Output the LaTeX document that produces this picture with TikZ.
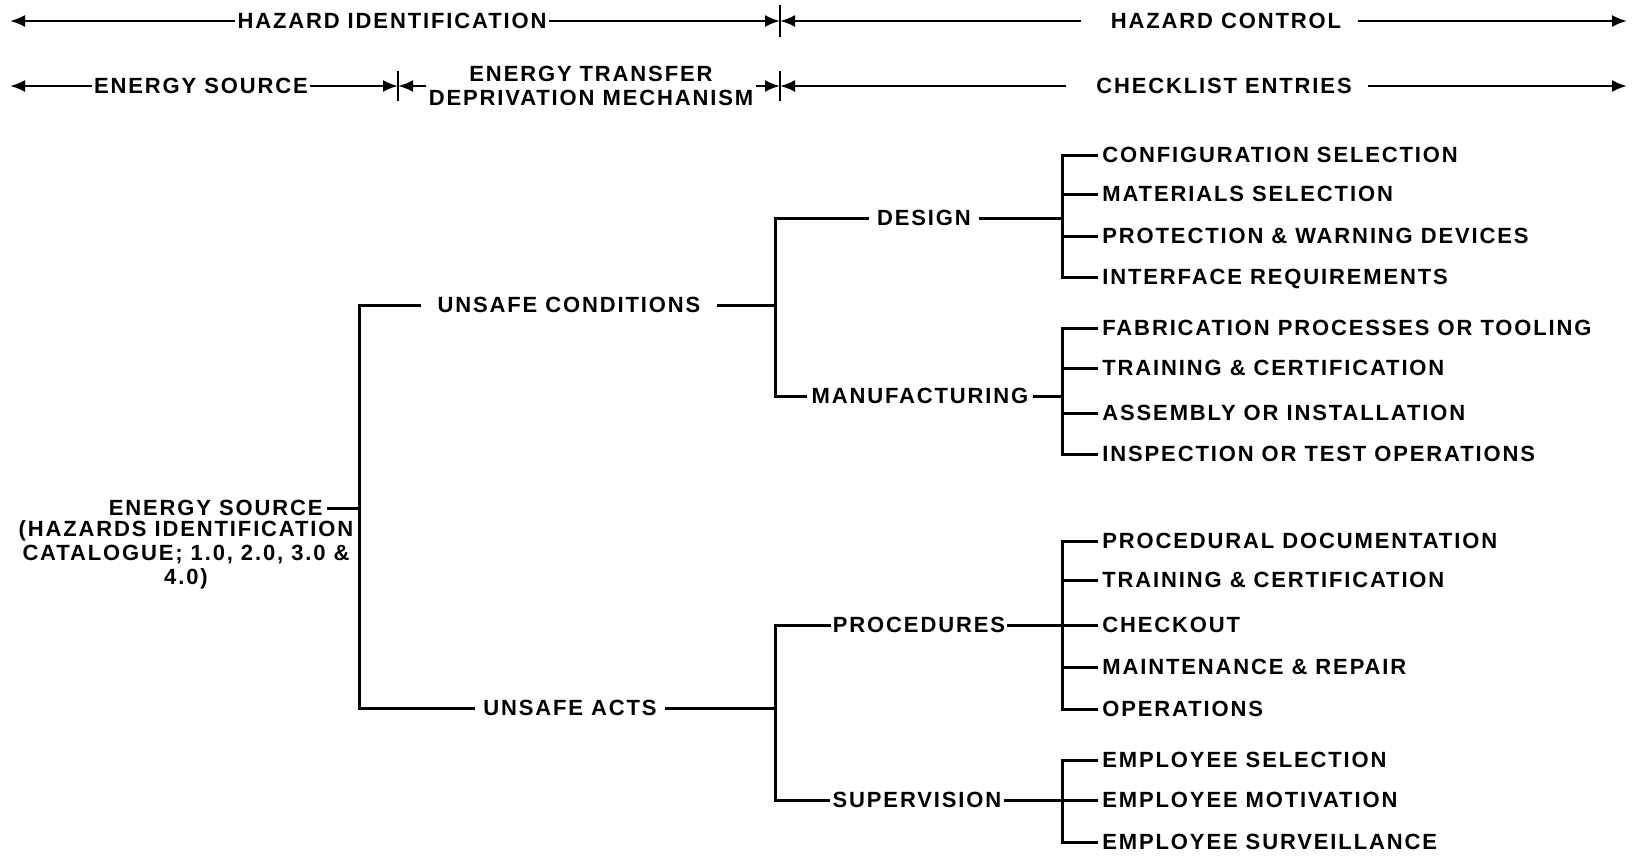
\documentclass[tikz,border=0pt]{standalone}
\usepackage{fontspec}
\setmainfont{Liberation Sans}[LetterSpace=8.5]
\usetikzlibrary{arrows.meta,positioning}

\begin{document}
\begin{tikzpicture}[
  x=0.5pt, y=-0.5pt,
  font=\fontsize{11}{12}\selectfont\bfseries,
  lbl/.style={inner sep=2pt, text height=7.9pt, text depth=0pt},
  leaf/.style={lbl, anchor=west},
  link/.style={line width=1.5pt},
  span/.style={line width=1.2pt, -{Latex[length=7.5pt,width=6pt]}},
  divider/.style={line width=1.2pt},
]
  \useasboundingbox (0,0) rectangle (1643,857);

  % header: identification / control
  \coordinate (hl) at (10,21);
  \coordinate (hm) at (780,21);
  \coordinate (hr) at (1627,21);
  \node[lbl, inner sep=1pt] (hid) at (392,21) {HAZARD IDENTIFICATION};
  \node[lbl, inner xsep=8pt] (hctl) at (1226,21) {HAZARD CONTROL};
  \draw[span] (hid.west) -- (hl);
  \draw[span] (hid.east) -- (hm);
  \draw[span, shorten <=7pt] (hctl.west) -- (hm);
  \draw[span] (hctl.east) -- (hr);
  \draw[divider] (hm) ++(0,-16) -- ++(0,32);

  % header: source / mechanism / entries
  \coordinate (el) at (10,86);
  \coordinate (ed) at (398,86);
  \coordinate (td) at (780,86);
  \coordinate (er) at (1627,86);
  \node[lbl, inner sep=1pt] (esrc) at (201,86) {ENERGY SOURCE};
  \node[align=center, inner sep=1pt] (mech) at (591,86) {ENERGY TRANSFER\\DEPRIVATION MECHANISM};
  \node[lbl, inner xsep=8pt] (chk) at (1224,86) {CHECKLIST ENTRIES};
  \draw[span] (esrc.west) -- (el);
  \draw[span] (esrc.east) -- (ed);
  \draw[span] (mech.west) -- (ed);
  \draw[span] (mech.east) -- (td);
  \draw[span, shorten <=7pt] (chk.west) -- (td);
  \draw[span] (chk.east) -- (er);
  \draw[divider] (ed) ++(0,-15) -- ++(0,30);
  \draw[divider] (td) ++(0,-15) -- ++(0,30);

  % tree columns
  \coordinate (v1) at (359,0);
  \coordinate (v2) at (775,0);
  \coordinate (v3) at (1062,0);

  \node[lbl, anchor=east] (root) at (327,508) {ENERGY SOURCE};
  \node[align=center, inner sep=0pt] (cat) at (186,555) {(HAZARDS IDENTIFICATION\\CATALOGUE; 1.0, 2.0, 3.0 \&\\4.0)};

  \node[lbl, inner xsep=8pt] (cond) at (569,305) {UNSAFE CONDITIONS};
  \node[lbl, inner xsep=4pt] (acts) at (570,708) {UNSAFE ACTS};

  \node[lbl, inner xsep=4pt] (design) at (924,218) {DESIGN};
  \node[lbl] (manuf) at (920,396) {MANUFACTURING};
  \node[lbl, inner sep=1pt] (proc) at (919,625) {PROCEDURES};
  \node[lbl, inner sep=1pt] (superv) at (917,800) {SUPERVISION};

  \node[leaf] (d1) at (1098,155) {CONFIGURATION SELECTION};
  \node[leaf] (d2) at (1098,194) {MATERIALS SELECTION};
  \node[leaf] (d3) at (1098,236) {PROTECTION \& WARNING DEVICES};
  \node[leaf] (d4) at (1098,277) {INTERFACE REQUIREMENTS};

  \node[leaf] (m1) at (1098,328) {FABRICATION PROCESSES OR TOOLING};
  \node[leaf] (m2) at (1098,368) {TRAINING \& CERTIFICATION};
  \node[leaf] (m3) at (1098,413) {ASSEMBLY OR INSTALLATION};
  \node[leaf] (m4) at (1098,454) {INSPECTION OR TEST OPERATIONS};

  \node[leaf] (p1) at (1098,541) {PROCEDURAL DOCUMENTATION};
  \node[leaf] (p2) at (1098,580) {TRAINING \& CERTIFICATION};
  \node[leaf] (p3) at (1098,625) {CHECKOUT};
  \node[leaf] (p4) at (1098,667) {MAINTENANCE \& REPAIR};
  \node[leaf] (p5) at (1098,709) {OPERATIONS};

  \node[leaf] (s1) at (1098,760) {EMPLOYEE SELECTION};
  \node[leaf] (s2) at (1098,800) {EMPLOYEE MOTIVATION};
  \node[leaf] (s3) at (1098,842) {EMPLOYEE SURVEILLANCE};

  % first split
  \draw[link] (root.east) -- (root.east -| v1);
  \draw[link] (cond.west) -- (cond.west -| v1) -- (acts.west -| v1) -- (acts.west);

  % second split
  \draw[link] (cond.east) -- (cond.east -| v2);
  \draw[link] (design.west) -- (design.west -| v2) -- (manuf.west -| v2) -- (manuf.west);
  \draw[link] (acts.east) -- (acts.east -| v2);
  \draw[link] (proc.west) -- (proc.west -| v2) -- (superv.west -| v2) -- (superv.west);

  % checklist entries
  \draw[link] (design.east) -- (design.east -| v3);
  \draw[link] (d1.west) -- (d1.west -| v3) -- (d4.west -| v3) -- (d4.west);
  \draw[link] (d2.west) -- (d2.west -| v3);
  \draw[link] (d3.west) -- (d3.west -| v3);

  \draw[link] (manuf.east) -- (manuf.east -| v3);
  \draw[link] (m1.west) -- (m1.west -| v3) -- (m4.west -| v3) -- (m4.west);
  \draw[link] (m2.west) -- (m2.west -| v3);
  \draw[link] (m3.west) -- (m3.west -| v3);

  \draw[link] (proc.east) -- (proc.east -| v3);
  \draw[link] (p1.west) -- (p1.west -| v3) -- (p5.west -| v3) -- (p5.west);
  \draw[link] (p2.west) -- (p2.west -| v3);
  \draw[link] (p3.west) -- (p3.west -| v3);
  \draw[link] (p4.west) -- (p4.west -| v3);

  \draw[link] (superv.east) -- (superv.east -| v3);
  \draw[link] (s1.west) -- (s1.west -| v3) -- (s3.west -| v3) -- (s3.west);
  \draw[link] (s2.west) -- (s2.west -| v3);
\end{tikzpicture}
\end{document}
